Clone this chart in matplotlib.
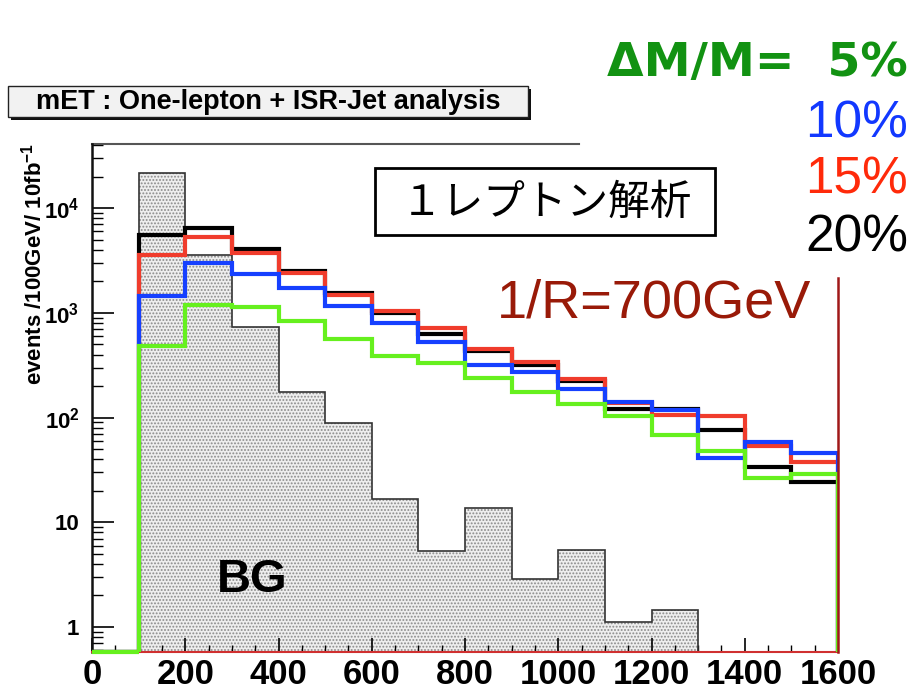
import numpy as np
import matplotlib
matplotlib.use("Agg")
import matplotlib.pyplot as plt
from matplotlib.patches import Rectangle
from matplotlib.ticker import FixedLocator, NullFormatter

plt.rcParams['font.family'] = ['Liberation Sans', 'DejaVu Sans']
plt.rcParams['mathtext.fontset'] = 'custom'
plt.rcParams['mathtext.rm'] = 'Liberation Sans'
plt.rcParams['mathtext.bf'] = 'Liberation Sans:bold'
plt.rcParams['hatch.color'] = '#8a8a8a'
plt.rcParams['hatch.linewidth'] = 0.9

# ---------------- data ----------------
bin_edges = [0, 100, 200, 300, 400, 500, 600, 700, 800, 900, 1000,
             1100, 1200, 1300, 1400, 1500, 1600]
bg = [0, 21700, 3570, 733, 176, 88.8, 16.7, 5.3, 13.7, 2.87, 5.44, 1.12, 1.45, 0, 0, 0]
dm5 = [0, 483, 1190, 1137, 837, 563, 388, 332, 239, 176, 135, 104, 68, 48, 26.5, 28.9]
dm10 = [0, 1450, 3000, 2353, 1731, 1164, 801, 527, 318, 273, 188, 141, 118, 41, 58.5, 45.9]
dm15 = [0, 3570, 5310, 3735, 2405, 1483, 1043, 718, 452, 340, 234, 138, 105, 104, 53.6, 37.7]
dm20 = [0, 5550, 6470, 4080, 2512, 1550, 998, 629, 432, 318, 224, 121, 121, 76, 33.7, 24.3]
x_ticks = [0, 200, 400, 600, 800, 1000, 1200, 1400, 1600]
y_ticks = [1, 10, 100, 1000, 10000]
y_labels = ['1', '10', r'$\mathbf{10^{2}}$', r'$\mathbf{10^{3}}$', r'$\mathbf{10^{4}}$']

W, H = 916, 692
YMIN, YMAX = 0.577, 41000

fig = plt.figure(figsize=(W / 100, H / 100), dpi=100)

def fx(x):
    return x / W

def fy(y):
    return 1 - y / H

L, R, T, B = 92, 838, 144, 652
ax = fig.add_axes([fx(L), fy(B), (R - L) / W, (B - T) / H])
ax.set_yscale('log')
ax.set_xlim(0, 1600)
ax.set_ylim(YMIN, YMAX)

def clip(v):
    a = np.asarray(v, float)
    return np.where(a > 0, a, YMIN)

edges = np.asarray(bin_edges, float)

# background histogram (dotted fill)
ax.stairs(clip(bg), edges, baseline=YMIN, fill=True, facecolor='#eeeeee',
          edgecolor='#8a8a8a', hatch='.....', linewidth=0, zorder=1)
ax.stairs(clip(bg), edges, baseline=YMIN, color='#333333', linewidth=1.2, zorder=2)

series = [(dm20, '#000000'), (dm15, '#f03c2c'), (dm10, '#1640ff'), (dm5, '#66f01e')]
for vals, col in series:
    ax.stairs(clip(vals), edges, baseline=YMIN, color=col, linewidth=3.0, zorder=3)

# spines
for s in ['top', 'right']:
    ax.spines[s].set_visible(False)
ax.spines['left'].set_linewidth(1.8)
ax.spines['left'].set_color('#111111')
ax.spines['bottom'].set_color('#d03030')
ax.spines['bottom'].set_linewidth(1.5)
ax.plot([0, 100], [YMIN, YMIN], color='#66f01e', lw=3, clip_on=False, zorder=5,
        solid_capstyle='butt')
ax.plot([0, (579 - L) / (R - L)], [1, 1], transform=ax.transAxes, color='#555555',
        lw=1.5, clip_on=False)
ax.plot([1, 1], [0, (B - 278) / (B - T)], transform=ax.transAxes, color='#a01818',
        lw=1.8, clip_on=False, zorder=6)

# ticks
ax.xaxis.set_major_locator(FixedLocator(x_ticks))
ax.xaxis.set_minor_locator(FixedLocator(np.arange(0, 1601, 50)))
ax.set_xticklabels([str(t) for t in x_ticks], fontsize=25, fontweight='bold')
ax.tick_params(axis='x', which='major', direction='in', length=10, width=1.2, pad=4,
               top=False)
ax.tick_params(axis='x', which='minor', direction='in', length=5, width=1.0, top=False)

ax.yaxis.set_major_locator(FixedLocator(y_ticks))
minor = [m * 10 ** e for e in range(-1, 5) for m in range(2, 10)]
minor = [v for v in minor if YMIN < v < YMAX]
ax.yaxis.set_minor_locator(FixedLocator(minor))
ax.yaxis.set_minor_formatter(NullFormatter())
ax.set_yticklabels(y_labels, fontsize=16, fontweight='bold')
ax.tick_params(axis='y', which='major', direction='in', length=16, width=1.2, pad=9,
               right=False)
ax.tick_params(axis='y', which='minor', direction='in', length=8, width=1.0, right=False)

fig.text(fx(34), fy(143), r'events /100GeV/ 10fb$^{\mathbf{-1}}$', rotation=90,
         ha='center', va='top', fontsize=16, fontweight='bold')

# title box with shadow
fig.patches.append(Rectangle((fx(11), fy(120)), (531 - 11) / W, (120 - 89) / H,
                             transform=fig.transFigure, facecolor='#111111',
                             edgecolor='none', zorder=1))
fig.patches.append(Rectangle((fx(8), fy(117)), (528 - 8) / W, (117 - 86) / H,
                             transform=fig.transFigure, facecolor='#f2f2f2',
                             edgecolor='#222222', linewidth=1.0, zorder=2))
fig.text(fx(268), fy(102), 'mET : One-lepton + ISR-Jet analysis', ha='center',
         va='center', fontsize=19.5, fontweight='bold', zorder=3)

# Japanese label box
fig.patches.append(Rectangle((fx(375), fy(235)), (715 - 375) / W, (235 - 168) / H,
                             transform=fig.transFigure, facecolor='white',
                             edgecolor='black', linewidth=2.0, zorder=2))
fig.text(fx(546), fy(203), '１レプトン解析', ha='center', va='center', fontsize=30,
         family=['Noto Sans CJK JP', 'DejaVu Sans'], zorder=3)

# right-side labels
fig.text(fx(908), fy(76), 'ΔM/M=  5%', ha='right', va='baseline', fontsize=34,
         fontweight='bold', color='#129212', family=['DejaVu Sans'])
fig.text(fx(908), fy(137), '10%', ha='right', va='baseline', fontsize=37,
         color='#1238ff')
fig.text(fx(908), fy(193), '15%', ha='right', va='baseline', fontsize=37,
         color='#ff2a0a')
fig.text(fx(908), fy(252), '20%', ha='right', va='baseline', fontsize=37,
         color='#000000')
fig.text(fx(654), fy(317), '1/R=700GeV', ha='center', va='baseline', fontsize=39,
         color='#991a08')

fig.text(fx(217), fy(592), 'BG', ha='left', va='baseline', fontsize=34,
         fontweight='bold', zorder=5)

fig.savefig('out.png', dpi=100)
